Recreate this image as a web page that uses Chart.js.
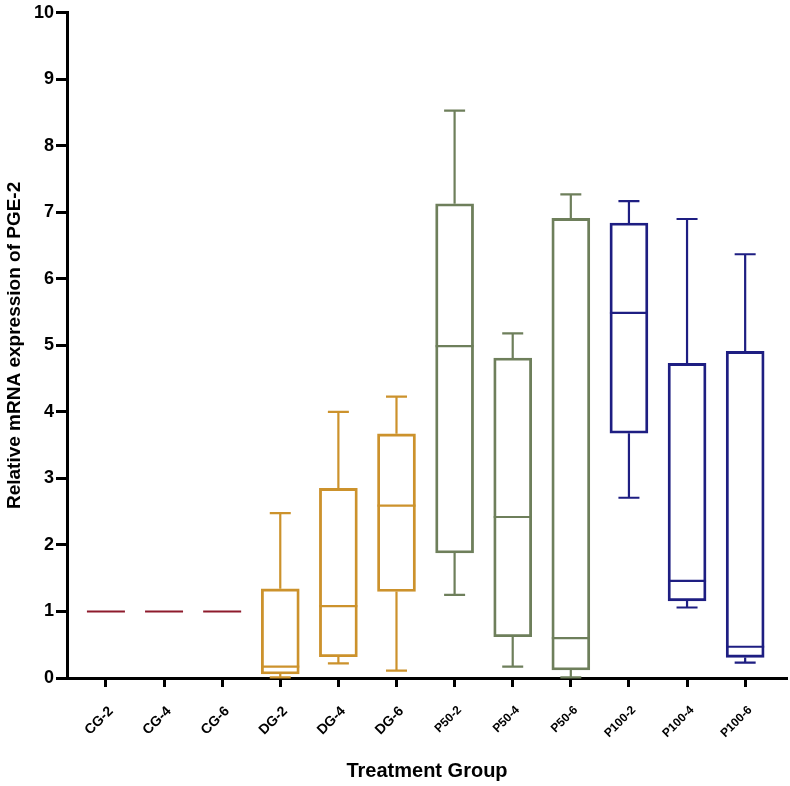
<!DOCTYPE html>
<html>
<head>
<meta charset="utf-8">
<script src="https://cdn.jsdelivr.net/npm/chart.js@4/dist/chart.umd.min.js"></script>
<style>
  html, body { margin: 0; padding: 0; background: #fff; }
  #wrap { width: 790px; height: 786px; }
</style>
</head>
<body>
<div id="wrap"><canvas id="box-chart"></canvas></div>
<script>
// groups on the x axis
const categories = ["CG-2", "CG-4", "CG-6", "DG-2", "DG-4", "DG-6",
  "P50-2", "P50-4", "P50-6", "P100-2", "P100-4", "P100-6"];
// box plot values
const whiskerMin = [1, 1, 1, 0.01, 0.22, 0.11, 1.25, 0.17, 0.01, 2.71, 1.06, 0.23];
const q1 = [1, 1, 1, 0.06, 0.32, 1.30, 1.88, 0.62, 0.12, 3.68, 1.16, 0.31];
const median = [1, 1, 1, 0.17, 1.08, 2.59, 4.99, 2.42, 0.60, 5.49, 1.46, 0.47];
const q3 = [1, 1, 1, 1.34, 2.85, 3.67, 7.13, 4.81, 6.91, 6.84, 4.73, 4.91];
const whiskerMax = [1, 1, 1, 2.48, 4.00, 4.23, 8.53, 5.18, 7.27, 7.17, 6.90, 6.37];
const yTicks = [0, 1, 2, 3, 4, 5, 6, 7, 8, 9, 10];

// colour per group
const groupColor = ["#8e1b2c", "#8e1b2c", "#8e1b2c",
  "#cc922c", "#cc922c", "#cc922c",
  "#6e7f5b", "#6e7f5b", "#6e7f5b",
  "#1e1e82", "#1e1e82", "#1e1e82"];

const FONT = "'Liberation Sans', Arial, sans-serif";

// medians and whiskers drawn through the chart's own scales
const boxExtras = {
  id: "boxExtras",
  afterDatasetsDraw(chart) {
    const ctx = chart.ctx;
    const x = chart.scales.x;
    const y = chart.scales.y;
    ctx.save();
    ctx.lineWidth = 2.2;
    ctx.lineCap = "butt";
    categories.forEach((c, i) => {
      const cx = x.getPixelForValue(i);
      ctx.strokeStyle = groupColor[i];
      // median
      ctx.beginPath();
      ctx.moveTo(cx - 19, y.getPixelForValue(median[i]));
      ctx.lineTo(cx + 19, y.getPixelForValue(median[i]));
      ctx.stroke();
      if (whiskerMax[i] === whiskerMin[i]) return;
      // upper whisker
      ctx.beginPath();
      ctx.moveTo(cx, y.getPixelForValue(q3[i]));
      ctx.lineTo(cx, y.getPixelForValue(whiskerMax[i]));
      ctx.moveTo(cx - 10.5, y.getPixelForValue(whiskerMax[i]));
      ctx.lineTo(cx + 10.5, y.getPixelForValue(whiskerMax[i]));
      // lower whisker
      ctx.moveTo(cx, y.getPixelForValue(q1[i]));
      ctx.lineTo(cx, y.getPixelForValue(whiskerMin[i]));
      ctx.moveTo(cx - 10.5, y.getPixelForValue(whiskerMin[i]));
      ctx.lineTo(cx + 10.5, y.getPixelForValue(whiskerMin[i]));
      ctx.stroke();
    });
    ctx.restore();
  }
};

new Chart(document.getElementById("box-chart"), {
  type: "bar",
  data: {
    datasets: [
      {
        label: "IQR",
        data: categories.map((c, i) => ({ x: i, y: [q1[i], q3[i]] })),
        backgroundColor: "rgba(255,255,255,0)",
        borderColor: groupColor,
        borderWidth: 2.2,
        borderSkipped: false,
        barThickness: 38,
      },
    ],
  },
  options: {
    responsive: true,
    maintainAspectRatio: false,
    animation: false,
    layout: { padding: { top: 10, right: 3, left: 0, bottom: 0 } },
    plugins: {
      legend: { display: false },
      tooltip: { enabled: false },
    },
    scales: {
      x: {
        type: "linear",
        min: -0.67,
        max: 11.72,
        offset: false,
        grid: {
          offset: false,
          drawOnChartArea: false,
          drawTicks: true,
          tickLength: 9,
          tickWidth: 3,
          tickColor: "#000",
        },
        border: { color: "#000", width: 3 },
        ticks: {
          stepSize: 1,
          includeBounds: false,
          autoSkip: false,
          minRotation: 45,
          maxRotation: 45,
          color: "#000",
          padding: 16,
          labelOffset: 5,
          font: (ctx) => ({
            family: FONT,
            weight: "bold",
            size: ctx.tick && ctx.tick.value >= 6 ? 12 : 14,
          }),
          callback: (v) => (Number.isInteger(v) ? categories[v] : ""),
        },
        title: {
          display: true,
          text: "Treatment Group",
          color: "#000",
          padding: { top: 0, bottom: 3 },
          font: { family: FONT, size: 20, weight: "bold" },
        },
        afterFit: (s) => { s.height = 108; },
      },
      y: {
        min: 0,
        max: 10,
        afterBuildTicks: (s) => { s.ticks = yTicks.map((v) => ({ value: v })); },
        grid: {
          drawOnChartArea: false,
          drawTicks: true,
          tickLength: 11,
          tickWidth: 3,
          tickColor: "#000",
        },
        border: { color: "#000", width: 3 },
        ticks: {
          color: "#000",
          padding: 2,
          font: { family: FONT, size: 18, weight: "bold" },
        },
        title: {
          display: true,
          text: "Relative mRNA expression of PGE-2",
          color: "#000",
          padding: { top: 3, bottom: 4 },
          font: { family: FONT, size: 19, weight: "bold" },
        },
        afterFit: (s) => { s.width = 67; },
      },
    },
  },
  plugins: [boxExtras],
});
</script>
</body>
</html>
